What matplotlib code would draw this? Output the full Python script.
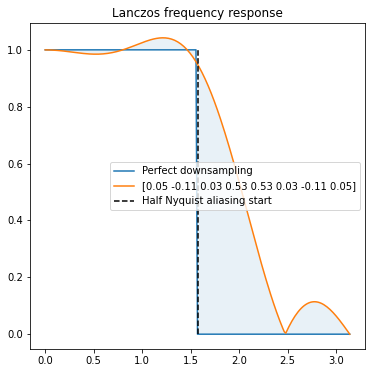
import numpy as np
import matplotlib
matplotlib.use('Agg')
import matplotlib.pyplot as plt

# ядро фильтра Ланцоша (в легенде округлено до двух знаков)
kernel = [0.0519, -0.1135, 0.0278, 0.5337, 0.5337, 0.0278, -0.1135, 0.0519]
kernel_label = '[0.05 -0.11 0.03 0.53 0.53 0.03 -0.11 0.05]'
n_fft = 200

# частотная характеристика ядра
resp = np.abs(np.fft.rfft(kernel, n=2 * n_fft))[:n_fft + 1]
w = np.linspace(0, np.pi, n_fft + 1)
perfect = (w <= np.pi / 2).astype(float)

fig = plt.figure(figsize=(372 / 72, 373 / 72), dpi=72)
ax = fig.add_axes([30 / 372, 24 / 373, 335 / 372, 326 / 373])
ax.plot(w, perfect, label='Perfect downsampling')
ax.plot(w, resp, label=kernel_label)
ax.vlines(np.pi / 2, 0, 1, colors='k', linestyles='--', label='Half Nyquist aliasing start')
ax.fill_between(w, perfect, resp, alpha=0.1)
ax.set_title('Lanczos frequency response')
ax.legend(loc='center right')
fig.savefig('out.png', dpi=72)
